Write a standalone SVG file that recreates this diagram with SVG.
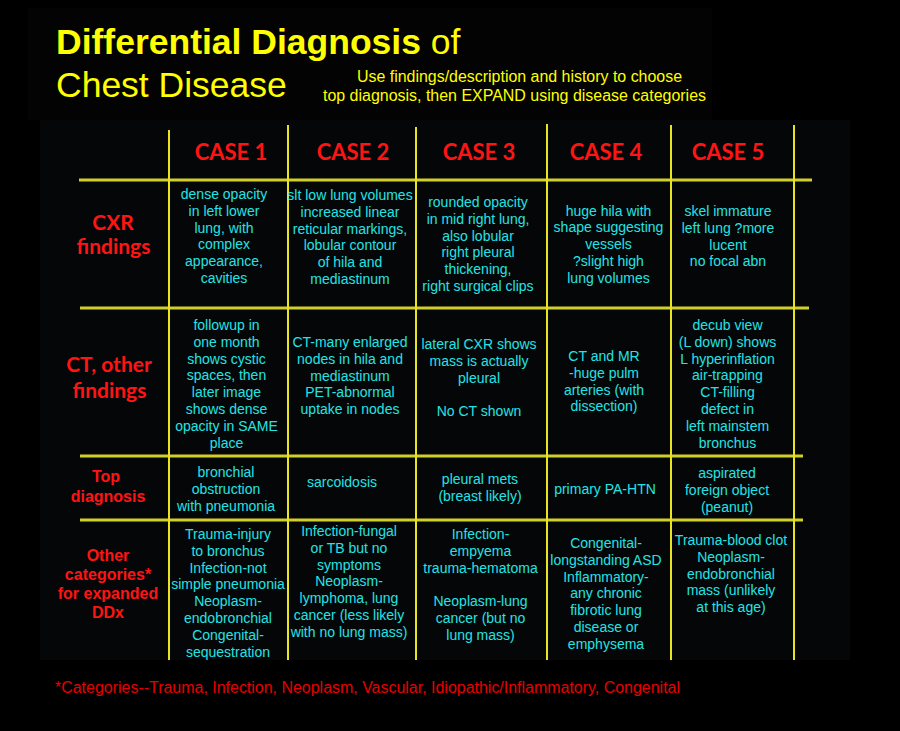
<svg xmlns="http://www.w3.org/2000/svg" width="900" height="731" viewBox="0 0 900 731">
<style>
.title{font-family:"Liberation Sans",Arial,sans-serif;font-size:35.5px;fill:#ffff00}
.sub{font-family:"Liberation Sans",Arial,sans-serif;font-size:16px;fill:#ffff00}
.case{font-family:Lato,"Open Sans",sans-serif;font-weight:bold;font-size:22px;fill:#ff1414;text-anchor:middle}
.lbl1{font-family:Lato,"Open Sans",sans-serif;font-weight:bold;font-size:21px;fill:#ff1414;text-anchor:middle}
.lbl2{font-family:"Liberation Sans",Arial,sans-serif;font-weight:bold;font-size:16px;fill:#ff1414;text-anchor:middle}
.cell{font-family:"Liberation Sans",Arial,sans-serif;font-size:14px;fill:#22e4e4;text-anchor:middle}
.foot{font-family:"Liberation Sans",Arial,sans-serif;font-size:16px;fill:#e80000}
.hl{stroke:#d2cf2a;stroke-width:3}
.vl{stroke:#e8e41e;stroke-width:2}
</style>
<rect width="900" height="731" fill="#000"/>
<rect x="28" y="8" width="684" height="112" fill="#030303"/>
<rect x="40" y="120" width="810" height="540" fill="#050608"/>

<g id="title">
<text class="title" x="56" y="54"><tspan font-weight="bold">Differential Diagnosis</tspan> of</text>
<text class="title" x="56" y="97">Chest Disease</text>
</g>
<g id="subtitle">
<text class="sub" x="357" y="82" textLength="325" lengthAdjust="spacingAndGlyphs">Use findings/description and history to choose</text>
<text class="sub" x="323" y="101" textLength="383" lengthAdjust="spacingAndGlyphs">top diagnosis, then EXPAND using disease categories</text>
</g>

<g id="grid">
<line class="hl" x1="79" y1="180" x2="812" y2="180"/>
<line class="hl" x1="80" y1="308" x2="809" y2="308"/>
<line class="hl" x1="80" y1="456" x2="803" y2="456"/>
<line class="hl" x1="80" y1="520" x2="803" y2="520"/>
<line class="vl" x1="169" y1="130" x2="169" y2="660"/>
<line class="vl" x1="288" y1="125" x2="288" y2="660"/>
<line class="vl" x1="416" y1="127" x2="416" y2="660"/>
<line class="vl" x1="547" y1="124" x2="547" y2="660"/>
<line class="vl" x1="671" y1="125" x2="671" y2="660"/>
<line class="vl" x1="794" y1="125" x2="794" y2="660"/>
</g>

<g id="headers">
<text class="case" x="231" y="160">CASE 1</text>
<text class="case" x="353" y="160">CASE 2</text>
<text class="case" x="479" y="160">CASE 3</text>
<text class="case" x="606" y="160">CASE 4</text>
<text class="case" x="728" y="160">CASE 5</text>
</g>

<g id="row-labels">
<text class="lbl1" y="230"><tspan x="113">CXR</tspan><tspan x="113.5" y="254">findings</tspan></text>
<text class="lbl1" y="372"><tspan x="109">CT, other</tspan><tspan x="109.5" y="398">findings</tspan></text>
<text class="lbl2" y="482"><tspan x="106">Top</tspan><tspan x="108" y="502">diagnosis</tspan></text>
<text class="lbl2" y="561"><tspan x="108">Other</tspan><tspan x="108" y="580">categories*</tspan><tspan x="108" y="599">for expanded</tspan><tspan x="108" y="618">DDx</tspan></text>
</g>

<g id="cxr-row">
<text class="cell" y="199"><tspan x="224">dense opacity</tspan><tspan x="224" dy="16.8">in left lower</tspan><tspan x="224" dy="16.8">lung, with</tspan><tspan x="224" dy="16.8">complex</tspan><tspan x="224" dy="16.8">appearance,</tspan><tspan x="224" dy="16.8">cavities</tspan></text>
<text class="cell" y="200"><tspan x="350">slt low lung volumes</tspan><tspan x="350" dy="16.8">increased linear</tspan><tspan x="350" dy="16.8">reticular markings,</tspan><tspan x="350" dy="16.8">lobular contour</tspan><tspan x="350" dy="16.8">of hila and</tspan><tspan x="350" dy="16.8">mediastinum</tspan></text>
<text class="cell" y="207"><tspan x="478">rounded opacity</tspan><tspan x="478" dy="16.8">in mid right lung,</tspan><tspan x="478" dy="16.8">also lobular</tspan><tspan x="478" dy="16.8">right pleural</tspan><tspan x="478" dy="16.8">thickening,</tspan><tspan x="478" dy="16.8">right surgical clips</tspan></text>
<text class="cell" y="215.5"><tspan x="608.5">huge hila with</tspan><tspan x="608.5" dy="16.8">shape suggesting</tspan><tspan x="608.5" dy="16.8">vessels</tspan><tspan x="608.5" dy="16.8">?slight high</tspan><tspan x="608.5" dy="16.8">lung volumes</tspan></text>
<text class="cell" y="216"><tspan x="728">skel immature</tspan><tspan x="728" dy="16.8">left lung ?more</tspan><tspan x="728" dy="16.8">lucent</tspan><tspan x="728" dy="16.8">no focal abn</tspan></text>
</g>

<g id="ct-row">
<text class="cell" y="330"><tspan x="226.5">followup in</tspan><tspan x="226.5" dy="16.8">one month</tspan><tspan x="226.5" dy="16.8">shows cystic</tspan><tspan x="226.5" dy="16.8">spaces, then</tspan><tspan x="226.5" dy="16.8">later image</tspan><tspan x="226.5" dy="16.8">shows dense</tspan><tspan x="226.5" dy="16.8">opacity in SAME</tspan><tspan x="226.5" dy="16.8">place</tspan></text>
<text class="cell" y="347"><tspan x="350">CT-many enlarged</tspan><tspan x="350" dy="16.8">nodes in hila and</tspan><tspan x="350" dy="16.8">mediastinum</tspan><tspan x="350" dy="16.8">PET-abnormal</tspan><tspan x="350" dy="16.8">uptake in nodes</tspan></text>
<text class="cell" y="349"><tspan x="479">lateral CXR shows</tspan><tspan x="479" dy="16.8">mass is actually</tspan><tspan x="479" dy="16.8">pleural</tspan><tspan x="479" dy="33.6">No CT shown</tspan></text>
<text class="cell" y="361"><tspan x="604">CT and MR</tspan><tspan x="604" dy="16.8">-huge pulm</tspan><tspan x="604" dy="16.8">arteries (with</tspan><tspan x="604" dy="16.8">dissection)</tspan></text>
<text class="cell" y="330"><tspan x="727.5">decub view</tspan><tspan x="727.5" dy="16.8">(L down) shows</tspan><tspan x="727.5" dy="16.8">L hyperinflation</tspan><tspan x="727.5" dy="16.8">air-trapping</tspan><tspan x="727.5" dy="16.8">CT-filling</tspan><tspan x="727.5" dy="16.8">defect in</tspan><tspan x="727.5" dy="16.8">left mainstem</tspan><tspan x="727.5" dy="16.8">bronchus</tspan></text>
</g>

<g id="top-row">
<text class="cell" y="477"><tspan x="226">bronchial</tspan><tspan x="226" dy="16.8">obstruction</tspan><tspan x="226" dy="16.8">with pneumonia</tspan></text>
<text class="cell" x="342" y="487">sarcoidosis</text>
<text class="cell" y="484"><tspan x="480">pleural mets</tspan><tspan x="480" dy="16.8">(breast likely)</tspan></text>
<text class="cell" x="605" y="494">primary PA-HTN</text>
<text class="cell" y="478"><tspan x="727">aspirated</tspan><tspan x="727" dy="16.8">foreign object</tspan><tspan x="727" dy="16.8">(peanut)</tspan></text>
</g>

<g id="other-row">
<text class="cell" y="539"><tspan x="228">Trauma-injury</tspan><tspan x="228" dy="16.8">to bronchus</tspan><tspan x="228" dy="16.8">Infection-not</tspan><tspan x="228" dy="16.8">simple pneumonia</tspan><tspan x="228" dy="16.8">Neoplasm-</tspan><tspan x="228" dy="16.8">endobronchial</tspan><tspan x="228" dy="16.8">Congenital-</tspan><tspan x="228" dy="16.8">sequestration</tspan></text>
<text class="cell" y="536"><tspan x="349">Infection-fungal</tspan><tspan x="349" dy="16.8">or TB but no</tspan><tspan x="349" dy="16.8">symptoms</tspan><tspan x="349" dy="16.8">Neoplasm-</tspan><tspan x="349" dy="16.8">lymphoma, lung</tspan><tspan x="349" dy="16.8">cancer (less likely</tspan><tspan x="349" dy="16.8">with no lung mass)</tspan></text>
<text class="cell" y="539"><tspan x="480.5">Infection-</tspan><tspan x="480.5" dy="16.8">empyema</tspan><tspan x="480.5" dy="16.8">trauma-hematoma</tspan><tspan x="480.5" dy="33.6">Neoplasm-lung</tspan><tspan x="480.5" dy="16.8">cancer (but no</tspan><tspan x="480.5" dy="16.8">lung mass)</tspan></text>
<text class="cell" y="548"><tspan x="606">Congenital-</tspan><tspan x="606" dy="16.8">longstanding ASD</tspan><tspan x="606" dy="16.8">Inflammatory-</tspan><tspan x="606" dy="16.8">any chronic</tspan><tspan x="606" dy="16.8">fibrotic lung</tspan><tspan x="606" dy="16.8">disease or</tspan><tspan x="606" dy="16.8">emphysema</tspan></text>
<text class="cell" y="545"><tspan x="731">Trauma-blood clot</tspan><tspan x="731" dy="16.8">Neoplasm-</tspan><tspan x="731" dy="16.8">endobronchial</tspan><tspan x="731" dy="16.8">mass (unlikely</tspan><tspan x="731" dy="16.8">at this age)</tspan></text>
</g>

<g id="footnote">
<text class="foot" x="55" y="693" textLength="625" lengthAdjust="spacingAndGlyphs">*Categories--Trauma, Infection, Neoplasm, Vascular, Idiopathic/Inflammatory, Congenital</text>
</g>
</svg>
